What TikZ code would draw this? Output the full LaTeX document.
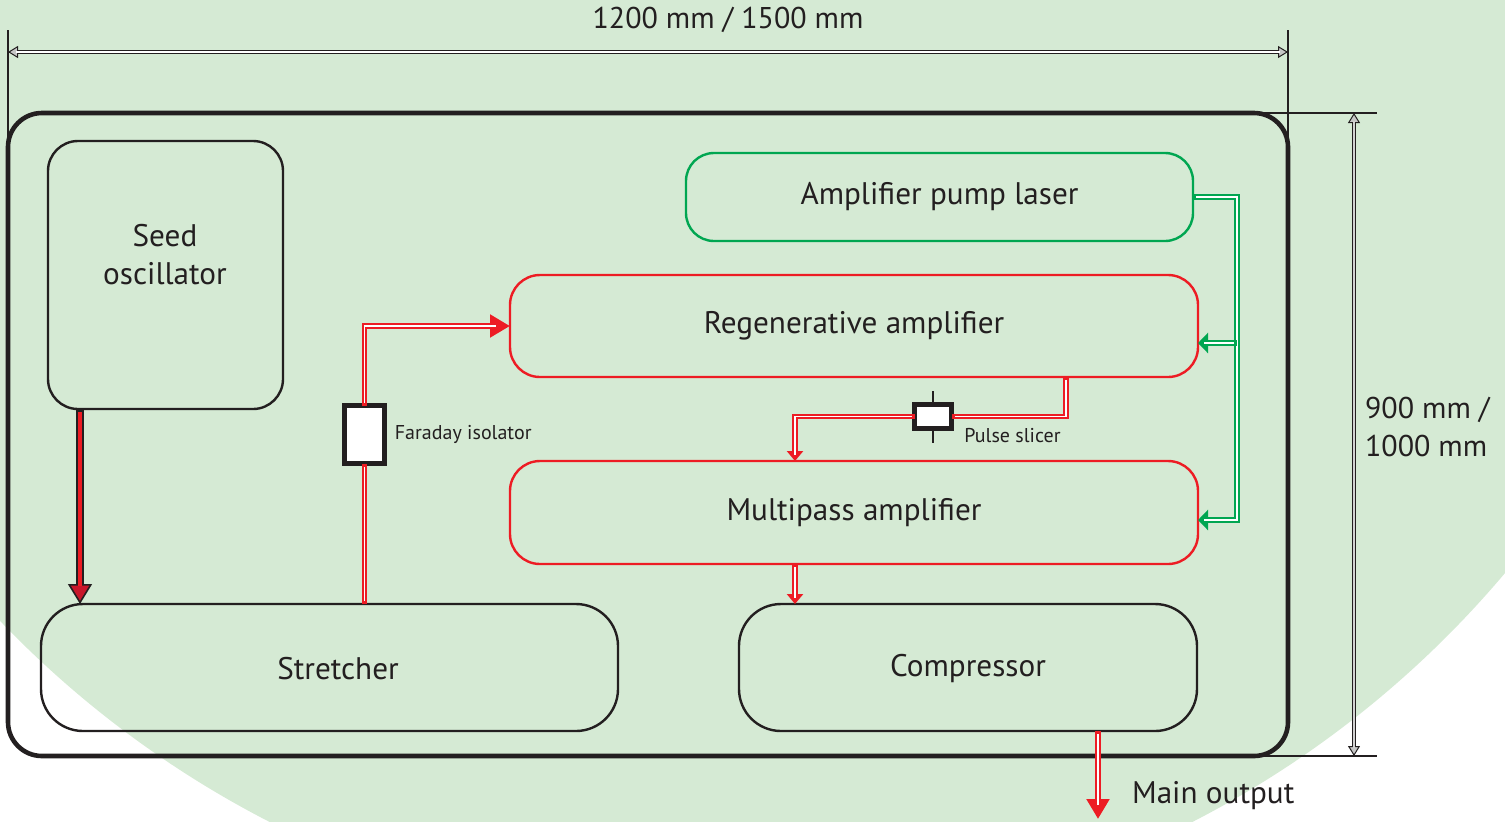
\documentclass[tikz,border=0pt]{standalone}
\usepackage{fontspec}
\setmainfont{PT Sans}
\usetikzlibrary{arrows.meta, positioning}

\definecolor{bggreen}{RGB}{213,234,212}
\definecolor{laserred}{RGB}{237,28,36}
\definecolor{seedred}{RGB}{200,22,42}
\definecolor{pumpgreen}{RGB}{0,166,81}
\definecolor{ink}{RGB}{35,31,32}

\tikzset{
  lbl/.style={font=\fontsize{15.6}{19}\selectfont, text=ink},
  note/.style={font=\fontsize{10}{12}\selectfont, text=ink, inner sep=1pt},
  unit/.style={lbl, draw=ink, line width=1.2pt, rounded corners=15pt, inner sep=0pt, outer sep=0pt},
  redunit/.style={unit, draw=laserred},
  greenunit/.style={unit, draw=pumpgreen},
  optic/.style={draw=ink, fill=white, line width=2.5pt, inner sep=0pt, outer sep=0pt},
  pipe/.style={line width=2.8pt, line join=miter,
    postaction={draw=white, line width=0.8pt, -, shorten <=1.5pt, shorten >=#1}},
  pipe/.default=1.5pt,
  redpipe/.style={pipe=#1, draw=laserred},
  redpipe/.default=1.5pt,
  greenpipe/.style={pipe=#1, draw=pumpgreen},
  greenpipe/.default=1.5pt,
  bigtip/.style={-{Triangle[length=10pt, width=11pt]}},
  smalltip/.style={-{Triangle[length=5pt, width=8pt]}},
  greentip/.style={-{Triangle[length=5pt, width=10pt]}},
  seedpipe/.style={draw=ink, line width=4pt,
    -{Triangle[length=10pt, width=12pt, fill=seedred, line width=0.8pt]},
    postaction={draw=laserred, line width=2.2pt, -, shorten <=1.5pt, shorten >=9pt}},
  dimline/.style={draw=ink, line width=1.8pt,
    {Triangle[length=5pt, width=6pt, fill=gray!45, line width=0.5pt]}-{Triangle[length=5pt, width=6pt, fill=gray!45, line width=0.5pt]},
    postaction={draw=#1, line width=0.7pt, -, shorten <=4pt, shorten >=4pt}},
  extline/.style={draw=ink, line width=1pt}
}

\begin{document}
\begin{tikzpicture}[x=0.5pt, y=-0.5pt]
  \useasboundingbox (0,0) rectangle (1505,821);
  % background
  \begin{scope}
    \clip (0,0) rectangle (1505,821);
    \fill[bggreen] (731,-79) circle[radius=1012];
  \end{scope}

  % housing and units
  \node[unit, line width=2.3pt, rounded corners=17pt, minimum width=640pt, minimum height=321.5pt] (housing) at (648,434.5) {};
  \node[unit, minimum width=117.5pt, minimum height=134pt] (seed) at (165.5,275) {};
  \node[lbl, align=center] (seedtext) at (165,255) {Seed\\oscillator};
  \node[unit, rounded corners=21pt, minimum width=288.5pt, minimum height=63.5pt] (stretcher) at (329.5,667.5) {};
  \node[lbl] (stretchertext) at (338,668.5) {Stretcher};
  \node[unit, rounded corners=21pt, minimum width=229pt, minimum height=63.5pt] (compressor) at (968,667.5) {};
  \node[lbl] (compressortext) at (968,668.5) {Compressor};
  \node[greenunit, rounded corners=14pt, minimum width=253.5pt, minimum height=44pt] (pump) at (939.5,197) {Amplifier pump laser};
  \node[redunit, minimum width=344pt, minimum height=51pt] (regen) at (854,326) {Regenerative amplifier};
  \node[redunit, minimum width=344pt, minimum height=51.5pt] (multi) at (854,512.5) {Multipass amplifier};

  % optics
  \node[optic, minimum width=20pt, minimum height=29pt] (faraday) at (364.5,434.5) {};
  \node[note, right=4pt of faraday] (faradaytext) {Faraday isolator};
  \node[optic, minimum width=18.5pt, minimum height=12pt] (slicer) at (933,416.5) {};
  \node[note, anchor=west] (slicertext) at (962,436) {Pulse slicer};
  \draw[ink, line width=1.4pt] (slicer.north) -- ++(0,7pt);
  \draw[ink, line width=1.4pt] (slicer.south) -- ++(0,-7pt);

  % beam path
  \draw[seedpipe] ([xshift=16pt]seed.south west) -- ([xshift=16pt]seed.south west |- stretcher.north);
  \draw[redpipe] (faraday |- stretcher.north) -- (faraday.south);
  \draw[redpipe=7pt, bigtip] (faraday.north) |- (regen.west);
  \draw[redpipe] ([xshift=106pt]regen.south) |- (slicer.east);
  \draw[redpipe=3pt, smalltip] (slicer.west) -| ([xshift=-29.5pt]multi.north);
  \draw[redpipe=3pt, smalltip] ([xshift=-29.5pt]multi.south) -- ([xshift=-29.5pt]multi.south |- compressor.north);
  \coordinate (mainout) at (1098,819);
  \draw[redpipe=7pt, bigtip] ([xshift=65pt]compressor.south) -- ([xshift=65pt]compressor.south |- mainout);
  \node[lbl, anchor=west] (outtext) at (1125,796) {Main output};

  % pump path
  \coordinate (regenin) at ([yshift=-8.5pt]regen.east);
  \coordinate (multiin) at ([yshift=-3.75pt]multi.east);
  \draw[greenpipe=3pt, greentip] (pump.east) -- ++(44,0) coordinate (split) |- (multiin);
  \draw[greenpipe=3pt, greentip] (split |- regenin) -- (regenin);

  % dimensions
  \draw[extline] ([yshift=-17.5pt]housing.north west) -- ++(0,59pt);
  \draw[extline] ([yshift=-17.5pt]housing.north east) -- ++(0,59pt);
  \draw[extline] ([xshift=-17pt]housing.north east) -- ++(61.5pt,0);
  \draw[extline] ([xshift=-17pt]housing.south east) -- ++(61.5pt,0);
  \draw[dimline=white] ([yshift=30.5pt]housing.north west) -- ([yshift=30.5pt]housing.north east);
  \draw[dimline=gray!35] ([xshift=33pt]housing.north east) -- ([xshift=33pt]housing.south east);
  \node[lbl, font=\fontsize{15}{19}\selectfont] (widthtext) at (728,20) {1200 mm / 1500 mm};
  \node[lbl, font=\fontsize{15}{19}\selectfont, align=left, anchor=west] (heighttext) at (1358,427) {900 mm /\\1000 mm};
\end{tikzpicture}
\end{document}
